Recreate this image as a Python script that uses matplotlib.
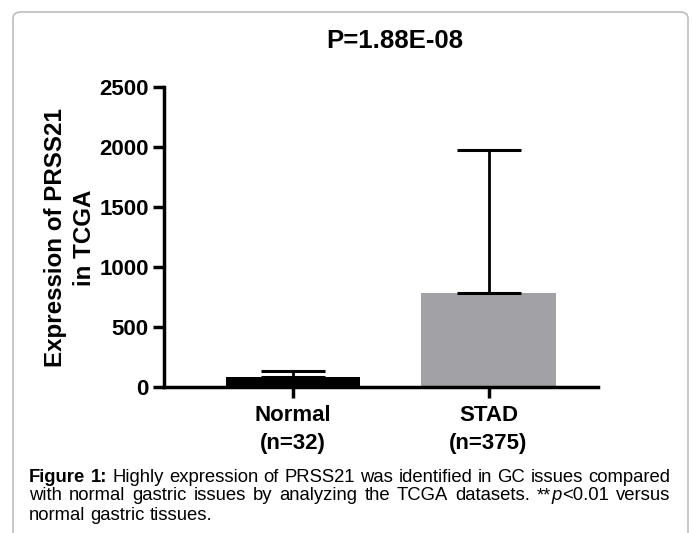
import matplotlib
matplotlib.use("Agg")
import matplotlib.pyplot as plt
from matplotlib.patches import FancyBboxPatch

plt.rcParams['font.family'] = ['Liberation Sans', 'DejaVu Sans']

# data
groups = ['Normal\n(n=32)', 'STAD\n(n=375)']
means = [85, 783]
sd_upper = [50, 1192]
bar_colors = ['#000000', '#a2a1a6']
y_ticks = [0, 500, 1000, 1500, 2000, 2500]
title = 'P=1.88E-08'
y_label = 'Expression of PRSS21\nin TCGA'

caption_lines = [
    [[('Figure', 'bold', 'normal')], [('1:', 'bold', 'normal')], 'Highly', 'expression', 'of',
     'PRSS21', 'was', 'identified', 'in', 'GC', 'issues', 'compared'],
    ['with', 'normal', 'gastric', 'issues', 'by', 'analyzing', 'the', 'TCGA', 'datasets.',
     [('**', 'normal', 'normal'), ('p', 'normal', 'italic'), ('<0.01', 'normal', 'normal')],
     'versus'],
    ['normal', 'gastric', 'tissues.'],
]

W, H = 692, 533
fig = plt.figure(figsize=(W / 100, H / 100), dpi=100)

# rounded frame around the panel (runs off the bottom edge)
frame = FancyBboxPatch((13 / W, -0.05), 675 / W, (H - 12) / H + 0.05,
                       boxstyle='round,pad=0,rounding_size=0.012',
                       transform=fig.transFigure, facecolor='none',
                       edgecolor='#bdbdbd', linewidth=1.2)
fig.patches.append(frame)

ax = fig.add_axes([164 / W, 1 - 387 / H, (598 - 164) / W, 300 / H])
x = list(range(len(groups)))
ax.bar(x, means, width=0.69, color=bar_colors, zorder=2)
ax.errorbar(x, means, yerr=[[0, 0], sd_upper], fmt='none', ecolor='black',
            elinewidth=2, capsize=23, capthick=2.2, zorder=3)

ax.set_xlim(-0.66, 1.56)
ax.set_ylim(0, 2500)
ax.set_yticks(y_ticks)
ax.set_xticks(x)
ax.set_xticklabels(groups, fontsize=16, fontweight='bold', linespacing=1.45)
for lab in ax.get_yticklabels():
    lab.set_fontsize(16)
    lab.set_fontweight('bold')
ax.tick_params(axis='both', width=2.5, length=8, direction='out', pad=3)
ax.tick_params(axis='x', pad=5)
for side in ['top', 'right']:
    ax.spines[side].set_visible(False)
for side in ['left', 'bottom']:
    ax.spines[side].set_linewidth(2.5)

fig.text(395 / W, 1 - 41 / H, title, ha='center', va='center',
         fontsize=18.5, fontweight='bold')
fig.text(70 / W, 1 - 238 / H, y_label, ha='center', va='center', rotation=90,
         fontsize=17.4, fontweight='bold', multialignment='center', linespacing=1.35)

# caption, justified word by word between the panel margins
fig.canvas.draw()
renderer = fig.canvas.get_renderer()
left, right = 29, 670
line_y = [477, 496, 515]


def seg_width(s, weight, style, size):
    t = fig.text(0, 0, s, fontsize=size, fontweight=weight, fontstyle=style)
    w = t.get_window_extent(renderer).width
    t.remove()
    return w


def natural_width(words, size):
    total = 0
    for w in words:
        total += sum(seg_width(s, wt, st, size) for s, wt, st in w)
    sp = seg_width('a b', 'normal', 'normal', size) - seg_width('ab', 'normal', 'normal', size)
    return total + sp * (len(words) - 1)


lines = [[[(w, 'normal', 'normal')] if isinstance(w, str) else w for w in ln]
         for ln in caption_lines]

# pick a caption size so the first line fills the panel width
cap_size = 12.0 * (right - left) / natural_width(lines[0], 12.0)
space_w = seg_width('a b', 'normal', 'normal', cap_size) - seg_width('ab', 'normal', 'normal', cap_size)

for i, words in enumerate(lines):
    widths = [sum(seg_width(s, wt, st, cap_size) for s, wt, st in w) for w in words]
    if i < len(lines) - 1:
        gap = (right - left - sum(widths)) / (len(words) - 1)
    else:
        gap = space_w
    xpos = left
    for w, wd in zip(words, widths):
        xs = xpos
        for s, weight, style in w:
            fig.text(xs / W, 1 - line_y[i] / H, s, fontsize=cap_size, fontweight=weight,
                     fontstyle=style, ha='left', va='center')
            xs += seg_width(s, weight, style, cap_size)
        xpos += wd + gap

fig.savefig('out.png', dpi=100)
